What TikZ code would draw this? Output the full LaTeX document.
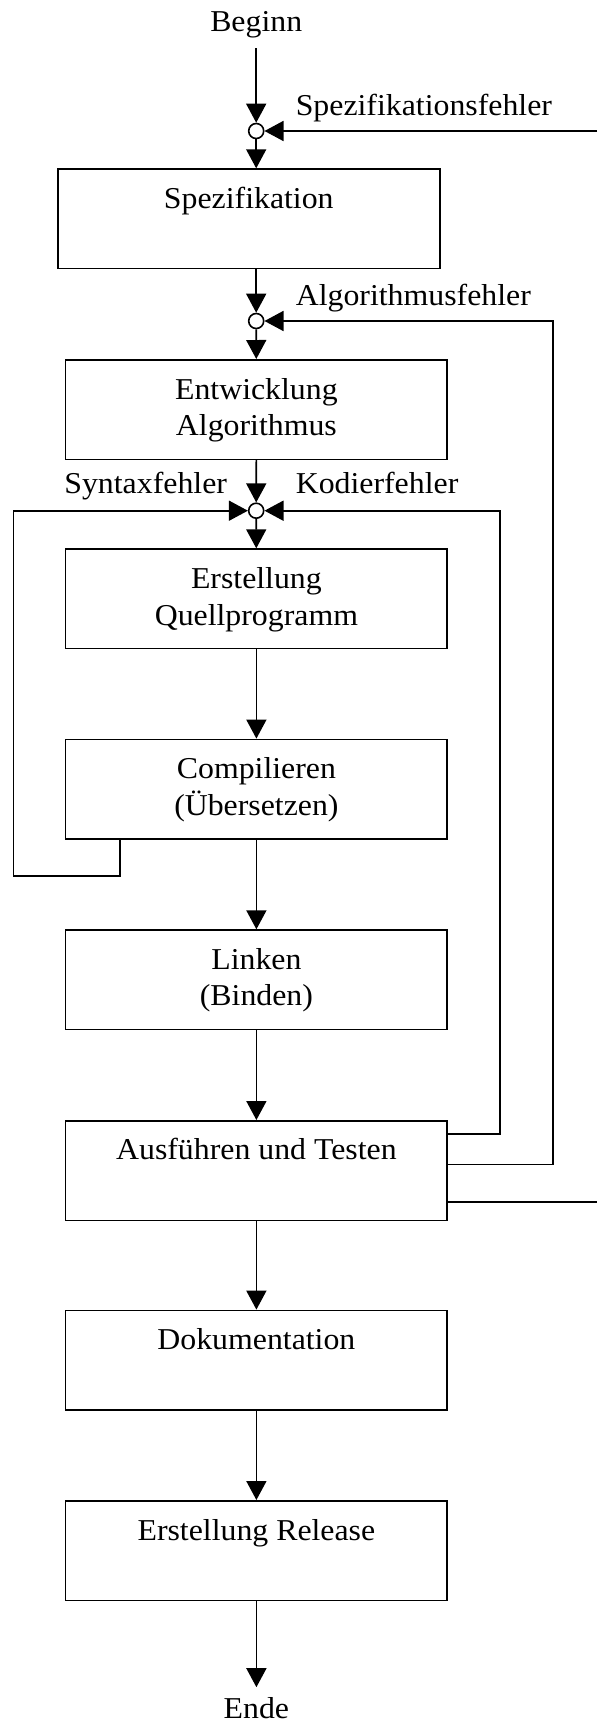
\documentclass[tikz,border=0pt]{standalone}
\usepackage{fontspec}
\setmainfont{Liberation Serif}[FakeStretch=1.05]
\usetikzlibrary{arrows.meta,calc}

\begin{document}
\begin{tikzpicture}[x=1pt,y=-1pt, line width=1.6pt,
  every node/.style={font=\fontsize{30.3}{36.7}\selectfont},
  box/.style={draw, rectangle, minimum width=381.5pt, minimum height=99.5pt, inner sep=0pt, anchor=north},
  txt/.style={inner sep=0pt, anchor=base},
  lbl/.style={inner sep=0pt, anchor=base west},
  term/.style={inner xsep=0pt, inner ysep=9pt, anchor=base},
  junc/.style={draw, circle, fill=white, minimum size=15pt, inner sep=0pt},
  flow/.style={-{Triangle[length=19pt,width=20pt]}},
]
% canvas
\fill[white] (0,0) rectangle (597,1724);
\useasboundingbox (0,0) rectangle (597,1724);

% process boxes
\node[box, minimum width=382pt] (spez) at (248.8,168.3) {};
\node[box] (entw) at (256.4,359)    {};
\node[box] (erst) at (256.4,548.3)  {};
\node[box] (comp) at (256.4,738.6)  {};
\node[box] (link) at (256.4,929.3)  {};
\node[box] (ausf) at (256.4,1120)   {};
\node[box] (dok)  at (256.4,1309.6) {};
\node[box] (rel)  at (256.4,1500)   {};

% box captions
\node[txt] (tspez)  at (248.8,208.3) {Spezifikation};
\node[txt] (tentw1) at (256.4,399)   {Entwicklung};
\node[txt] (tentw2) at (256.4,435.7) {Algorithmus};
\node[txt] (terst1) at (256.4,588.3) {Erstellung};
\node[txt] (terst2) at (256.4,625)   {Quellprogramm};
\node[txt] (tcomp1) at (256.4,778.6) {Compilieren};
\node[txt] (tcomp2) at (256.4,815.5) {(Übersetzen)};
\node[txt] (tlink1) at (256.4,969)   {Linken};
\node[txt] (tlink2) at (256.4,1005.7){(Binden)};
\node[txt] (tausf)  at (256.4,1159)  {Ausführen und Testen};
\node[txt] (tdok)   at (256.4,1349.6){Dokumentation};
\node[txt] (trel)   at (256.4,1540.7){Erstellung Release};

% start and end
\node[term] (beginn) at (256.2,31.7) {Beginn};
\node[term] (ende)   at (256.4,1718) {Ende};

% junctions
\node[junc] (c1) at (256.2,131)   {};
\node[junc] (c2) at (256.2,321)   {};
\node[junc] (c3) at (256.2,510.7) {};

% feedback labels
\node[lbl] (lspez) at (295,115)    {Spezifikationsfehler};
\node[lbl] (lalg)  at (295,305)    {Algorithmusfehler};
\node[lbl] (lsyn)  at (63.6,493.3) {Syntaxfehler};
\node[lbl] (lkod)  at (295,493.3)  {Kodierfehler};

% main flow
\draw[flow] (beginn) -- (c1);
\draw[flow] (c1) -- (c1 |- spez.north);
\draw[flow] (spez.south -| c2) -- (c2);
\draw[flow] (c2) -- (entw);
\draw[flow] (entw) -- (c3);
\draw[flow] (c3) -- (erst);
\draw[flow] (erst) -- (comp);
\draw[flow] (comp) -- (link);
\draw[flow] (link) -- (ausf);
\draw[flow] (ausf) -- (dok);
\draw[flow] (dok) -- (rel);
\draw[flow] (rel) -- (ende);

% feedback loops
\coordinate (rsOut) at (597,1201.7);
\coordinate (rsIn)  at (597,131);
\draw (ausf.east |- rsOut) -- (rsOut);
\draw[flow] (rsIn) -- (c1);

\coordinate (ra) at (553.1,1164.3);
\draw[flow] (ausf.east |- ra) -- (ra) |- (c2);

\coordinate (rk) at (499.8,1134);
\draw[flow] (ausf.east |- rk) -- (rk) |- (c3);

\coordinate (sx) at (119.9,876);
\coordinate (sl) at (13.3,876);
\draw[flow] (sx |- comp.south) -- (sx) -- (sl) |- (c3);
\end{tikzpicture}
\end{document}
